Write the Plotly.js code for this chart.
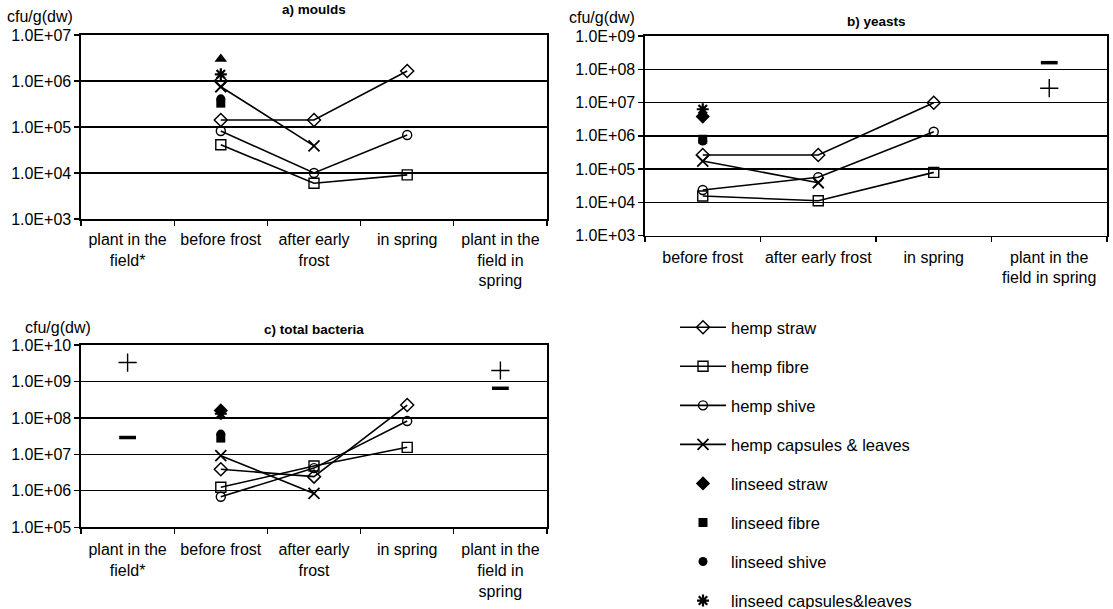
<!DOCTYPE html>
<html><head><meta charset="utf-8">
<script src="https://cdn.plot.ly/plotly-3.0.1.min.js"></script>
<style>html,body{margin:0;padding:0;background:#fff}#chart{width:1113px;height:609px}</style>
</head><body><div id="chart"></div><script>
// ---------- categories & tick labels ----------
const categoriesAC = ["plant in the<br>field*", "before frost", "after early<br>frost", "in spring", "plant in the<br>field in<br>spring"];
const categoriesB = ["before frost", "after early frost", "in spring", "plant in the<br>field in spring"];
const tickValsA = [1e3, 1e4, 1e5, 1e6, 1e7];
const tickTextA = ["1.0E+03", "1.0E+04", "1.0E+05", "1.0E+06", "1.0E+07"];
const tickValsB = [1e3, 1e4, 1e5, 1e6, 1e7, 1e8, 1e9];
const tickTextB = ["1.0E+03", "1.0E+04", "1.0E+05", "1.0E+06", "1.0E+07", "1.0E+08", "1.0E+09"];
const tickValsC = [1e5, 1e6, 1e7, 1e8, 1e9, 1e10];
const tickTextC = ["1.0E+05", "1.0E+06", "1.0E+07", "1.0E+08", "1.0E+09", "1.0E+10"];
const seriesNames = ["hemp straw", "hemp fibre", "hemp shive", "hemp capsules & leaves",
  "linseed straw", "linseed fibre", "linseed shive", "linseed capsules&leaves"];

// ---------- a) moulds (categoriesAC order) ----------
const hempStrawA   = [null, 1.42e5, 1.42e5, 1.65e6, null];
const hempFibreA   = [null, 4.1e4, 6.0e3, 9.1e3, null];
const hempShiveA   = [null, 8.2e4, 1.0e4, 6.7e4, null];
const hempCapsA    = [null, 7.5e5, 3.9e4, null, null];
const linStrawA    = [null, 3.0e6, null, null, null];
const linFibreA    = [null, 3.3e5, null, null, null];
const linShiveA    = [null, 4.1e5, null, null, null];
const linCapsA     = [null, 1.4e6, null, null, null];
const extraDiamondA = [null, 1.0e6, null, null, null];

// ---------- b) yeasts (categoriesB order) ----------
const hempStrawB   = [2.65e5, 2.65e5, 9.9e6, null];
const hempFibreB   = [1.56e4, 1.12e4, 8.0e4, null];
const hempShiveB   = [2.36e4, 5.7e4, 1.33e6, null];
const hempCapsB    = [1.75e5, 3.9e4, null, null];
const linStrawB    = [3.8e6, null, null, null];
const linFibreB    = [7.9e5, null, null, null];
const linShiveB    = [7.0e5, null, null, null];
const linCapsB     = [6.3e6, null, null, null];
const plusB        = [null, null, null, 2.7e7];
const minusB       = [null, null, null, 1.58e8];

// ---------- c) total bacteria (categoriesAC order) ----------
const hempStrawC   = [null, 3.9e6, 2.45e6, 2.26e8, null];
const hempFibreC   = [null, 1.25e6, 4.8e6, 1.56e7, null];
const hempShiveC   = [null, 6.9e5, 4.2e6, 8.2e7, null];
const hempCapsC    = [null, 9.2e6, 8.5e5, null, null];
const linStrawC    = [null, 1.6e8, null, null, null];
const linFibreC    = [null, 2.8e7, null, null, null];
const linShiveC    = [null, 3.6e7, null, null, null];
const linCapsC     = [null, 1.3e8, null, null, null];
const plusC        = [3.3e9, null, null, null, 2.0e9];
const minusC       = [2.9e7, null, null, null, 6.5e8];

// ---------- styles ----------
const styles = {
  "hemp straw": {mode: "lines+markers", symbol: "diamond-open", size: 10, mlw: 1.5},
  "hemp fibre": {mode: "lines+markers", symbol: "square-open", size: 10, mlw: 1.4},
  "hemp shive": {mode: "lines+markers", symbol: "circle-open", size: 9, mlw: 1.4},
  "hemp capsules & leaves": {mode: "lines+markers", symbol: "x-thin-open", size: 11, mlw: 1.8},
  "linseed straw": {mode: "markers", symbol: "diamond", size: 11, mlw: 0},
  "linseed fibre": {mode: "markers", symbol: "square", size: 9, mlw: 0},
  "linseed shive": {mode: "markers", symbol: "circle", size: 9, mlw: 0},
  "linseed capsules&leaves": {mode: "markers", symbol: "asterisk-open", size: 10, mlw: 2.2},
  "plus": {mode: "markers", symbol: "cross-thin-open", size: 13, mlw: 1.4},
  "minus": {mode: "markers", symbol: "line-ew-open", size: 12, mlw: 3.5},
  "triangle": {mode: "markers", symbol: "triangle-up", size: 11, mlw: 0}
};

function mk(name, styleKey, xs, ys, xa, ya, showlegend) {
  const s = styles[styleKey];
  return {
    type: "scatter", name: name, x: xs, y: ys, xaxis: xa, yaxis: ya,
    mode: s.mode, showlegend: !!showlegend, legendgroup: name,
    legendrank: seriesNames.indexOf(name) + 1,
    line: {color: "black", width: 1.6},
    marker: {symbol: s.symbol, size: s.size, color: "black", line: {color: "black", width: s.mlw}},
    hoverinfo: "x+y+name", cliponaxis: false
  };
}

const data = [];
// panel b first (legend source)
const bSeries = [hempStrawB, hempFibreB, hempShiveB, hempCapsB, linStrawB, linFibreB, linShiveB, linCapsB];
bSeries.forEach((ys, i) => data.push(mk(seriesNames[i], seriesNames[i], categoriesB, ys, "x2", "y2", true)));
data.push(mk("plant (+)", "plus", categoriesB, plusB, "x2", "y2", false));
data.push(mk("plant (−)", "minus", categoriesB, minusB, "x2", "y2", false));
// panel a
const aSeries = [hempStrawA, hempFibreA, hempShiveA, hempCapsA, null, linFibreA, linShiveA, linCapsA];
aSeries.forEach((ys, i) => { if (ys) data.push(mk(seriesNames[i], seriesNames[i], categoriesAC, ys, "x", "y", false)); });
data.push(mk("linseed straw", "triangle", categoriesAC, linStrawA, "x", "y", false));
data.push(mk("hemp straw", "hemp straw", categoriesAC, extraDiamondA, "x", "y", false));
// panel c
const cSeries = [hempStrawC, hempFibreC, hempShiveC, hempCapsC, linStrawC, linFibreC, linShiveC, linCapsC];
cSeries.forEach((ys, i) => data.push(mk(seriesNames[i], seriesNames[i], categoriesAC, ys, "x3", "y3", false)));
data.push(mk("plant (+)", "plus", categoriesAC, plusC, "x3", "y3", false));
data.push(mk("plant (−)", "minus", categoriesAC, minusC, "x3", "y3", false));

const W = 1113, H = 609;
const FONT = "Liberation Sans, Arial, sans-serif";
function xax(domainPx, cats, anchor, standoff) {
  return {
    domain: [domainPx[0] / W, domainPx[1] / W], anchor: anchor, type: "category",
    categoryorder: "array", categoryarray: cats, range: [-0.5, cats.length - 0.5],
    tickson: "boundaries", ticks: "outside", ticklen: 5, tickwidth: 1.3, tickcolor: "black",
    tickangle: 0, automargin: false, ticklabelstandoff: standoff,
    showline: true, mirror: true, linecolor: "black", linewidth: 1.6,
    showgrid: false, zeroline: false, tickfont: {family: FONT, size: 16, color: "black"},
    fixedrange: true
  };
}
function yax(domainPx, rng, vals, text, anchor) {
  return {
    domain: [1 - domainPx[1] / H, 1 - domainPx[0] / H], anchor: anchor, type: "log",
    range: rng, tickmode: "array", tickvals: vals, ticktext: text, automargin: false,
    ticks: "outside", ticklen: 5, tickwidth: 1.3, tickcolor: "black",
    showline: true, mirror: true, linecolor: "black", linewidth: 1.6,
    showgrid: true, gridcolor: "black", gridwidth: 1.3, zeroline: false,
    tickfont: {family: FONT, size: 16, color: "black"}, fixedrange: true
  };
}

function ann(text, xPx, yPx, size) {
  return {text: text, x: xPx / W, y: 1 - yPx / H, xref: "paper", yref: "paper",
    xanchor: "center", yanchor: "middle", showarrow: false, font: {family: FONT, size: size, color: "black"}};
}

const layout = {
  width: W, height: H, autosize: false,
  margin: {l: 0, r: 0, t: 0, b: 0, autoexpand: false},
  paper_bgcolor: "white", plot_bgcolor: "white",
  font: {family: FONT, color: "black"},
  xaxis: xax([81, 547], categoriesAC, "y", 5),
  yaxis: yax([35, 219], [3, 7], tickValsA, tickTextA, "x"),
  xaxis2: xax([645, 1107], categoriesB, "y2", 6),
  yaxis2: yax([36, 235.7], [3, 9], tickValsB, tickTextB, "x2"),
  xaxis3: xax([81, 547], categoriesAC, "y3", 7),
  yaxis3: yax([345, 527.3], [5, 10], tickValsC, tickTextC, "x3"),
  showlegend: true,
  legend: {
    x: 675 / W, y: 1 - 310 / H, xanchor: "left", yanchor: "top",
    traceorder: "grouped", tracegroupgap: 14.6, itemwidth: 46,
    font: {family: FONT, size: 16.5, color: "black"},
    bgcolor: "rgba(0,0,0,0)", itemclick: false, itemdoubleclick: false
  },
  annotations: [
    ann("<b>a) moulds</b>", 314, 10, 13.5),
    ann("<b>b) yeasts</b>", 876, 22, 13.5),
    ann("<b>c) total bacteria</b>", 314, 329, 13.5),
    ann("cfu/g(dw)", 40, 17, 16),
    ann("cfu/g(dw)", 602, 18, 16),
    ann("cfu/g(dw)", 58, 327, 16)
  ]
};

Plotly.newPlot("chart", data, layout, {staticPlot: true, displayModeBar: false});
</script></body></html>
